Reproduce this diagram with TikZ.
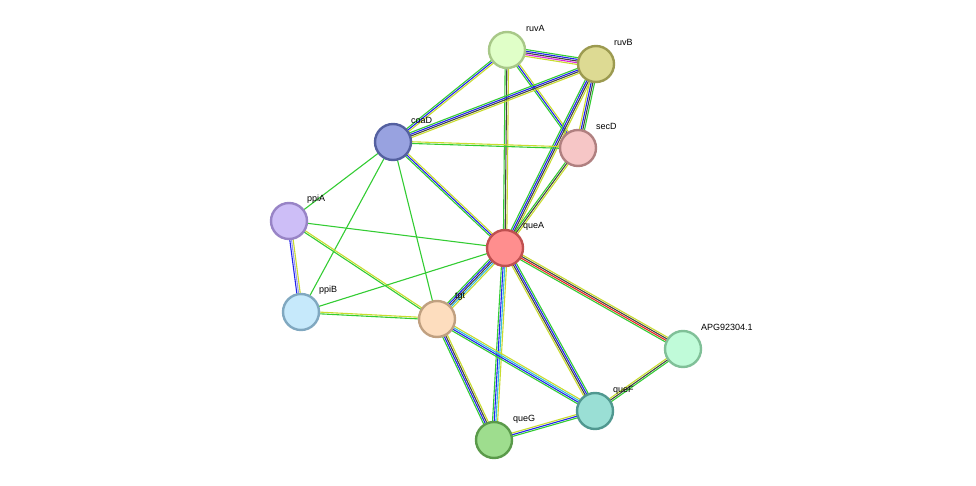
\documentclass[tikz,border=0pt]{standalone}
\usepackage{fontspec}
\setmainfont{Liberation Sans}
\usetikzlibrary{calc}
\definecolor{eg}{HTML}{33CC33}
\definecolor{ey}{HTML}{C8DC2E}
\definecolor{eb}{HTML}{2222EE}
\definecolor{ek}{HTML}{444444}
\definecolor{em}{HTML}{DD22DD}
\definecolor{er}{HTML}{EE2222}
\definecolor{ec}{HTML}{33BBDD}
\definecolor{el}{HTML}{9999EE}
\newcommand{\stredge}[3]{%
  \foreach \c [count=\i] in {#3} {\xdef\nn{\i}}%
  \foreach \c [count=\i] in {#3} {%
    \pgfmathsetmacro{\off}{(\i-(\nn+1)/2)*1.7}%
    \draw[line width=1.1pt,draw=\c] ($(#1)!\off pt!90:(#2)$) -- ($(#2)!\off pt!-90:(#1)$);%
  }%
}
\tikzset{
  prot/.style 2 args={circle,minimum size=36pt,inner sep=0pt,line width=2.4pt,
    /utils/exec={\definecolor{pf}{HTML}{#1}\definecolor{pd}{HTML}{#2}},fill=pf,draw=pd},
  lab/.style={anchor=west,font=\fontsize{9pt}{10pt}\selectfont,text=black,inner sep=0pt}
}
\begin{document}
\begin{tikzpicture}[x=1pt,y=-1pt]
\useasboundingbox (0,0) rectangle (976,486);
\coordinate (ruvA) at (507,50);
\coordinate (ruvB) at (596,64);
\coordinate (coaD) at (393,142);
\coordinate (secD) at (578,148);
\coordinate (ppiA) at (289,221);
\coordinate (queA) at (505,248);
\coordinate (ppiB) at (301,312);
\coordinate (tgt) at (437,319);
\coordinate (APG) at (683,349);
\coordinate (queF) at (595,411);
\coordinate (queG) at (494,440);
\stredge{ruvA}{ruvB}{ey,em,ek,eb,eg}
\stredge{ruvA}{coaD}{eg,eb,ey}
\stredge{ruvA}{secD}{eg,eb,ey}
\stredge{ruvA}{queA}{eg,ek,ey}
\stredge{ruvB}{coaD}{eg,eb,ek,ey}
\stredge{ruvB}{secD}{ey,eb,ek,eg}
\stredge{ruvB}{queA}{eg,eb,ek,ey}
\stredge{coaD}{secD}{eg,ey}
\stredge{coaD}{queA}{eg,eb,ey}
\stredge{coaD}{ppiA}{eg}
\stredge{coaD}{ppiB}{eg}
\stredge{coaD}{tgt}{eg}
\stredge{secD}{queA}{eg,ek,ey}
\stredge{ppiA}{queA}{eg}
\stredge{ppiA}{ppiB}{eb,el,ey}
\stredge{ppiA}{tgt}{eg,ey}
\stredge{ppiB}{queA}{eg}
\stredge{ppiB}{tgt}{eg,ey}
\stredge{queA}{tgt}{eg,eb,ek,ec,ey}
\stredge{queA}{queG}{eg,eb,ec,ey}
\stredge{queA}{queF}{ey,ek,eb,eg}
\stredge{queA}{APG}{eg,er,ek,ey}
\stredge{tgt}{queG}{eg,eb,ek,ey}
\stredge{tgt}{queF}{eg,eb,ec,ey}
\stredge{queG}{queF}{eg,eb,ey}
\stredge{queF}{APG}{eg,ek,ey}
\node[prot={E0FFC8}{A8C888}] (nruvA) at (ruvA) {};
\node[prot={DDDA93}{9C9A50}] (nruvB) at (ruvB) {};
\node[prot={98A2E0}{5460A0}] (ncoaD) at (coaD) {};
\node[prot={F6C6C6}{B08080}] (nsecD) at (secD) {};
\node[prot={CDBEF7}{9884C6}] (nppiA) at (ppiA) {};
\node[prot={FF8E8E}{C05050}] (nqueA) at (queA) {};
\node[prot={C6E9FB}{80A8C0}] (nppiB) at (ppiB) {};
\node[prot={FDDDBE}{C0A080}] (ntgt) at (tgt) {};
\node[prot={C0FBD9}{80C098}] (nAPG) at (APG) {};
\node[prot={9ADFD5}{509890}] (nqueF) at (queF) {};
\node[prot={9EDD8E}{5A9A4A}] (nqueG) at (queG) {};
\node[lab] (lruvA) at ($(ruvA)+(19,-22)$) {ruvA};
\node[lab] (lruvB) at ($(ruvB)+(18,-22)$) {ruvB};
\node[lab] (lcoaD) at ($(coaD)+(18,-22)$) {coaD};
\node[lab] (lsecD) at ($(secD)+(18,-22)$) {secD};
\node[lab] (lppiA) at ($(ppiA)+(18,-22)$) {ppiA};
\node[lab] (lqueA) at ($(queA)+(18,-22)$) {queA};
\node[lab] (lppiB) at ($(ppiB)+(18,-22)$) {ppiB};
\node[lab] (ltgt) at ($(tgt)+(18,-22)$) {tgt};
\node[lab] (lAPG) at ($(APG)+(18,-22)$) {APG92304.1};
\node[lab] (lqueF) at ($(queF)+(18,-21)$) {queF};
\node[lab] (lqueG) at ($(queG)+(19,-21)$) {queG};
\end{tikzpicture}
\end{document}
